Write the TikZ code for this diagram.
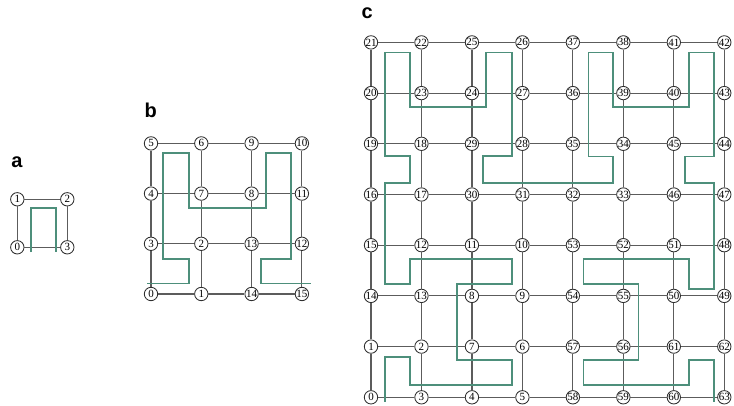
\documentclass[tikz,border=0pt]{standalone}
\usepackage{fontspec}
\setmainfont{Liberation Serif}
\newfontfamily\panelfont{Liberation Sans}
\definecolor{hilbertgreen}{HTML}{4D8F7B}
\begin{document}
\begin{tikzpicture}[x=1pt,y=1pt,
  vtx/.style={circle, draw=black!82, line width=0.85pt, fill=white,
    inner sep=0pt, minimum size=13.4pt, font=\fontsize{11}{11}\selectfont},
  gridlink/.style={draw=black!64, line width=1.15pt},
  curve/.style={draw=hilbertgreen, line width=1.8pt, line join=miter},
  panel/.style={font=\panelfont\bfseries\fontsize{20}{20}\selectfont, inner sep=0pt}]
\useasboundingbox (0,0) rectangle (734,406);

% panel letters
\node[panel] (lab-a) at (17,243.5) {a};
\node[panel] (lab-b) at (150.7,295.3) {b};
\node[panel] (lab-c) at (367.3,392.5) {c};

% ---------- a: 2 x 2 grid ----------
\begin{scope}[shift={(17.3,158.7)}, x=50pt, y=48pt]
  \foreach \lab [count=\i from 0] in {0,3} \node[vtx] (a-\i-0) at (\i,0) {\lab};
  \foreach \lab [count=\i from 0] in {1,2} \node[vtx] (a-\i-1) at (\i,1) {\lab};
  \draw[gridlink] (a-0-0) -- (a-1-0);
  \draw[gridlink] (a-0-1) -- (a-1-1);
  \draw[gridlink] (a-0-0) -- (a-0-1);
  \draw[gridlink] (a-1-0) -- (a-1-1);
  \draw[curve] (0.274,-0.1) -- (0.274,0.825) -- (0.774,0.825) -- (0.774,-0.1);
\end{scope}

% ---------- b: 4 x 4 grid ----------
\begin{scope}[shift={(151,112)}, x=50.3pt, y=50.2pt]
  \foreach \row [count=\j from 0] in {{0,1,14,15},{3,2,13,12},{4,7,8,11},{5,6,9,10}}{
    \foreach \lab [count=\i from 0] in \row
      \node[vtx] (b-\i-\j) at (\i,\j) {\lab};
  }
  \foreach \u in {0,...,3}{
    \foreach \v in {0,...,2}{
      \pgfmathtruncatemacro\w{\v+1}
      \draw[gridlink] (b-\u-\v) -- (b-\u-\w);
      \draw[gridlink] (b-\v-\u) -- (b-\w-\u);
    }
  }
  \draw[curve] (-0.07,0.21) -- (0.76,0.21) -- (0.76,0.70) -- (0.245,0.70)
    -- (0.245,2.81) -- (0.76,2.81) -- (0.76,1.71) -- (2.28,1.71)
    -- (2.28,2.81) -- (2.78,2.81) -- (2.78,0.70) -- (2.18,0.70)
    -- (2.18,0.21) -- (3.19,0.21);
\end{scope}

% ---------- c: 8 x 8 grid ----------
\begin{scope}[shift={(371,8.7)}, x=50.47pt, y=50.7pt]
  \foreach \row [count=\j from 0] in {
      {0,3,4,5,58,59,60,63},
      {1,2,7,6,57,56,61,62},
      {14,13,8,9,54,55,50,49},
      {15,12,11,10,53,52,51,48},
      {16,17,30,31,32,33,46,47},
      {19,18,29,28,35,34,45,44},
      {20,23,24,27,36,39,40,43},
      {21,22,25,26,37,38,41,42}}{
    \foreach \lab [count=\i from 0] in \row
      \node[vtx] (c-\i-\j) at (\i,\j) {\lab};
  }
  \foreach \u in {0,...,7}{
    \foreach \v in {0,...,6}{
      \pgfmathtruncatemacro\w{\v+1}
      \draw[gridlink] (c-\u-\v) -- (c-\u-\w);
      \draw[gridlink] (c-\v-\u) -- (c-\w-\u);
    }
  }
  \draw[curve] (0.28,-0.09) -- (0.28,0.80) -- (0.78,0.80) -- (0.78,0.24)
    -- (2.79,0.24) -- (2.79,0.74) -- (1.70,0.74) -- (1.70,2.24)
    -- (2.79,2.24) -- (2.79,2.72) -- (0.78,2.72) -- (0.78,2.24)
    -- (0.28,2.24) -- (0.28,4.23) -- (0.78,4.23) -- (0.78,4.76)
    -- (0.28,4.76) -- (0.28,6.80) -- (0.78,6.80) -- (0.78,5.72)
    -- (2.28,5.72) -- (2.28,6.80) -- (2.79,6.80) -- (2.79,4.76)
    -- (2.22,4.76) -- (2.22,4.23) -- (4.79,4.23) -- (4.79,4.75)
    -- (4.31,4.75) -- (4.31,6.80) -- (4.79,6.80) -- (4.79,5.72)
    -- (6.30,5.72) -- (6.30,6.80) -- (6.80,6.80) -- (6.80,4.75)
    -- (6.22,4.75) -- (6.22,4.23) -- (6.80,4.23) -- (6.80,2.14)
    -- (6.30,2.14) -- (6.30,2.72) -- (4.21,2.72) -- (4.21,2.24)
    -- (5.30,2.24) -- (5.30,0.73) -- (4.21,0.73) -- (4.21,0.24)
    -- (6.30,0.24) -- (6.30,0.73) -- (6.80,0.73) -- (6.80,-0.09);
\end{scope}
\end{tikzpicture}
\end{document}
